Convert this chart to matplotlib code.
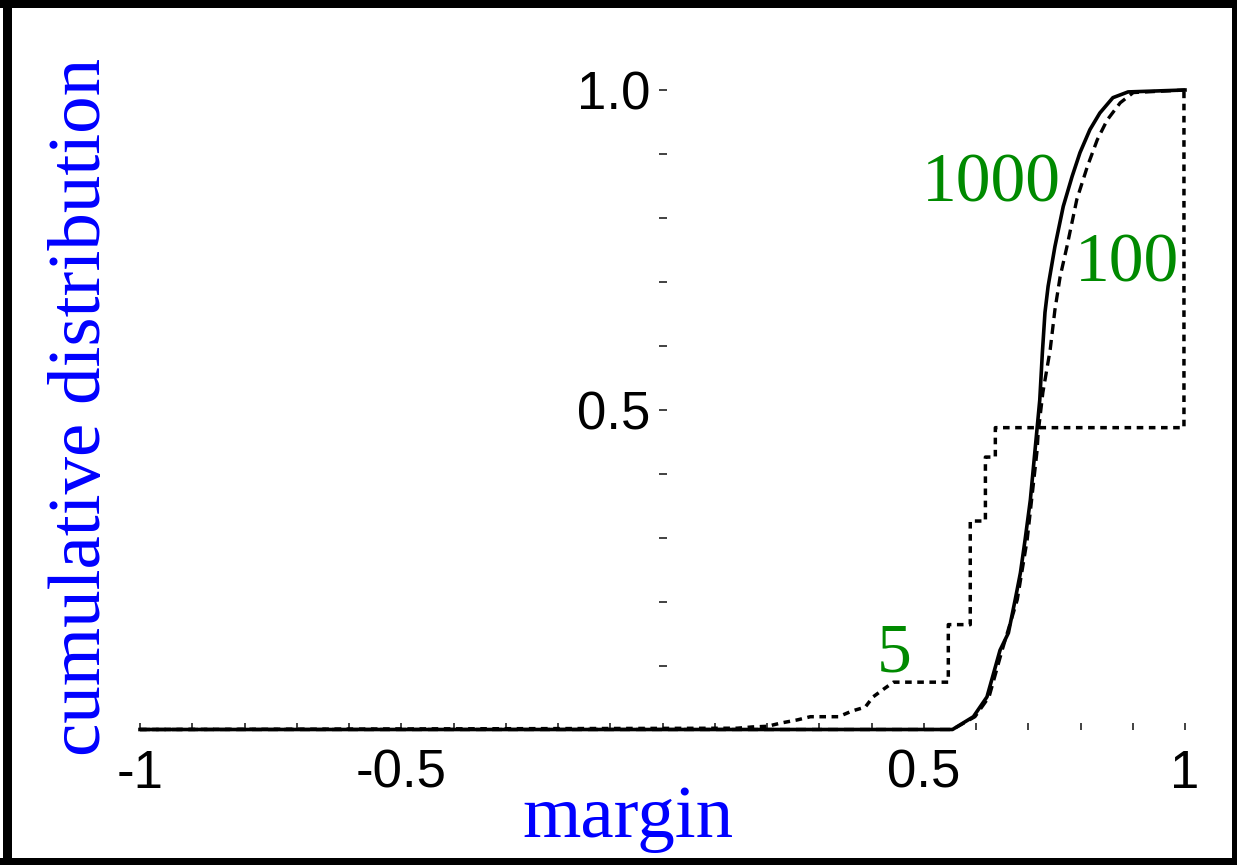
import matplotlib
matplotlib.use('Agg')
import matplotlib.pyplot as plt
from matplotlib.patches import Rectangle

# cumulative distribution of the margin for n = 1000, 100 and 5
x_1000 = [-1.0, 0.555, 0.595, 0.621, 0.646, 0.662, 0.675, 0.685, 0.694, 0.704, 0.713,
          0.722, 0.727, 0.732, 0.738, 0.751, 0.767, 0.784, 0.799, 0.818, 0.837,
          0.862, 0.891, 1.0]
y_1000 = [0.0, 0.0, 0.020, 0.051, 0.124, 0.151, 0.203, 0.245, 0.297, 0.359, 0.437,
          0.515, 0.589, 0.652, 0.693, 0.755, 0.818, 0.865, 0.902, 0.938, 0.964,
          0.988, 0.997, 1.0]

x_100 = [-1.0, 0.555, 0.598, 0.625, 0.650, 0.679, 0.698, 0.717, 0.719, 0.728, 0.742,
         0.751, 0.761, 0.774, 0.793, 0.813, 0.832, 0.851, 0.876, 0.901, 1.0]
y_100 = [0.0, 0.0, 0.020, 0.051, 0.124, 0.203, 0.297, 0.437, 0.464, 0.527, 0.594,
         0.656, 0.708, 0.755, 0.829, 0.880, 0.922, 0.953, 0.980, 0.996, 1.0]

x_5 = [-1.0, 0.143, 0.172, 0.201, 0.226, 0.258, 0.283, 0.337, 0.363, 0.388, 0.403,
       0.423, 0.442, 0.547, 0.547, 0.589, 0.589, 0.618, 0.618, 0.637, 0.637,
       0.998, 0.998]
y_5 = [0.0, 0.002, 0.004, 0.005, 0.010, 0.015, 0.020, 0.020, 0.029, 0.035, 0.051,
       0.063, 0.074, 0.074, 0.164, 0.164, 0.326, 0.326, 0.426, 0.426, 0.472,
       0.472, 1.0]

x_ticks = [round(-1 + 0.1 * i, 1) for i in range(21)]
x_tick_labels = {-1.0: '-1', -0.5: '-0.5', 0.5: '0.5', 1.0: '1'}
y_ticks = [round(0.1 * i, 1) for i in range(1, 11)]
y_tick_labels = {0.5: '0.5', 1.0: '1.0'}

# label text, position (data coords, left/baseline)
curve_labels = [('1000', 0.497, 0.826), ('100', 0.790, 0.700), ('5', 0.411, 0.090)]

W, H = 1237, 865
fig = plt.figure(figsize=(W / 100, H / 100), dpi=100)
ax = fig.add_axes([140 / W, (H - 729.5) / H, 1045 / W, 639.5 / H])
ax.set_xlim(-1, 1)
ax.set_ylim(0, 1)

ax.plot(x_5, y_5, color='black', lw=2.5, dashes=(1.9, 1.6), clip_on=False)
ax.plot(x_100, y_100, color='black', lw=2.4, dashes=(3.0, 1.8), clip_on=False)
ax.plot(x_1000, y_1000, color='black', lw=2.6, clip_on=False)

for txt, lx, ly in curve_labels:
    ax.text(lx, ly, txt, color='#008a00', fontsize=50, family='Liberation Serif',
            ha='left', va='baseline')

# Maple style axes: no spines, ticks only, y axis at x = 0
for s in ['top', 'right', 'bottom']:
    ax.spines[s].set_visible(False)
ax.spines['left'].set_position(('data', 0))
ax.spines['left'].set_color('none')

ax.set_xticks(x_ticks)
ax.set_xticklabels([x_tick_labels.get(t, '') for t in x_ticks])
ax.set_yticks(y_ticks)
ax.set_yticklabels([y_tick_labels.get(t, '') for t in y_ticks])
ax.tick_params(axis='x', direction='in', length=5, width=1.2, color='#222222',
               pad=14, labelsize=38)
ax.tick_params(axis='y', direction='inout', length=6, width=1.2, color='#222222',
               pad=6, labelsize=38)
for lab in ax.get_xticklabels() + ax.get_yticklabels():
    lab.set_family('Liberation Sans')

fig.text(628 / W, (H - 837) / H, 'margin', color='blue', fontsize=54,
         family='Liberation Serif', ha='center', va='baseline')
fig.text(100 / W, (H - 407) / H, 'cumulative distribution', color='blue', fontsize=54,
         family='Liberation Serif', rotation=90, rotation_mode='anchor',
         ha='center', va='baseline')

# black frame round the picture
for (fx, fy, fw, fh) in [(3, 0, 9, H), (0, 0, W, 8), (1232, 0, 5, H), (0, 858, W, 7)]:
    fig.add_artist(Rectangle((fx / W, (H - fy - fh) / H), fw / W, fh / H,
                             transform=fig.transFigure, color='black', lw=0))

fig.savefig('out.png', dpi=100)
